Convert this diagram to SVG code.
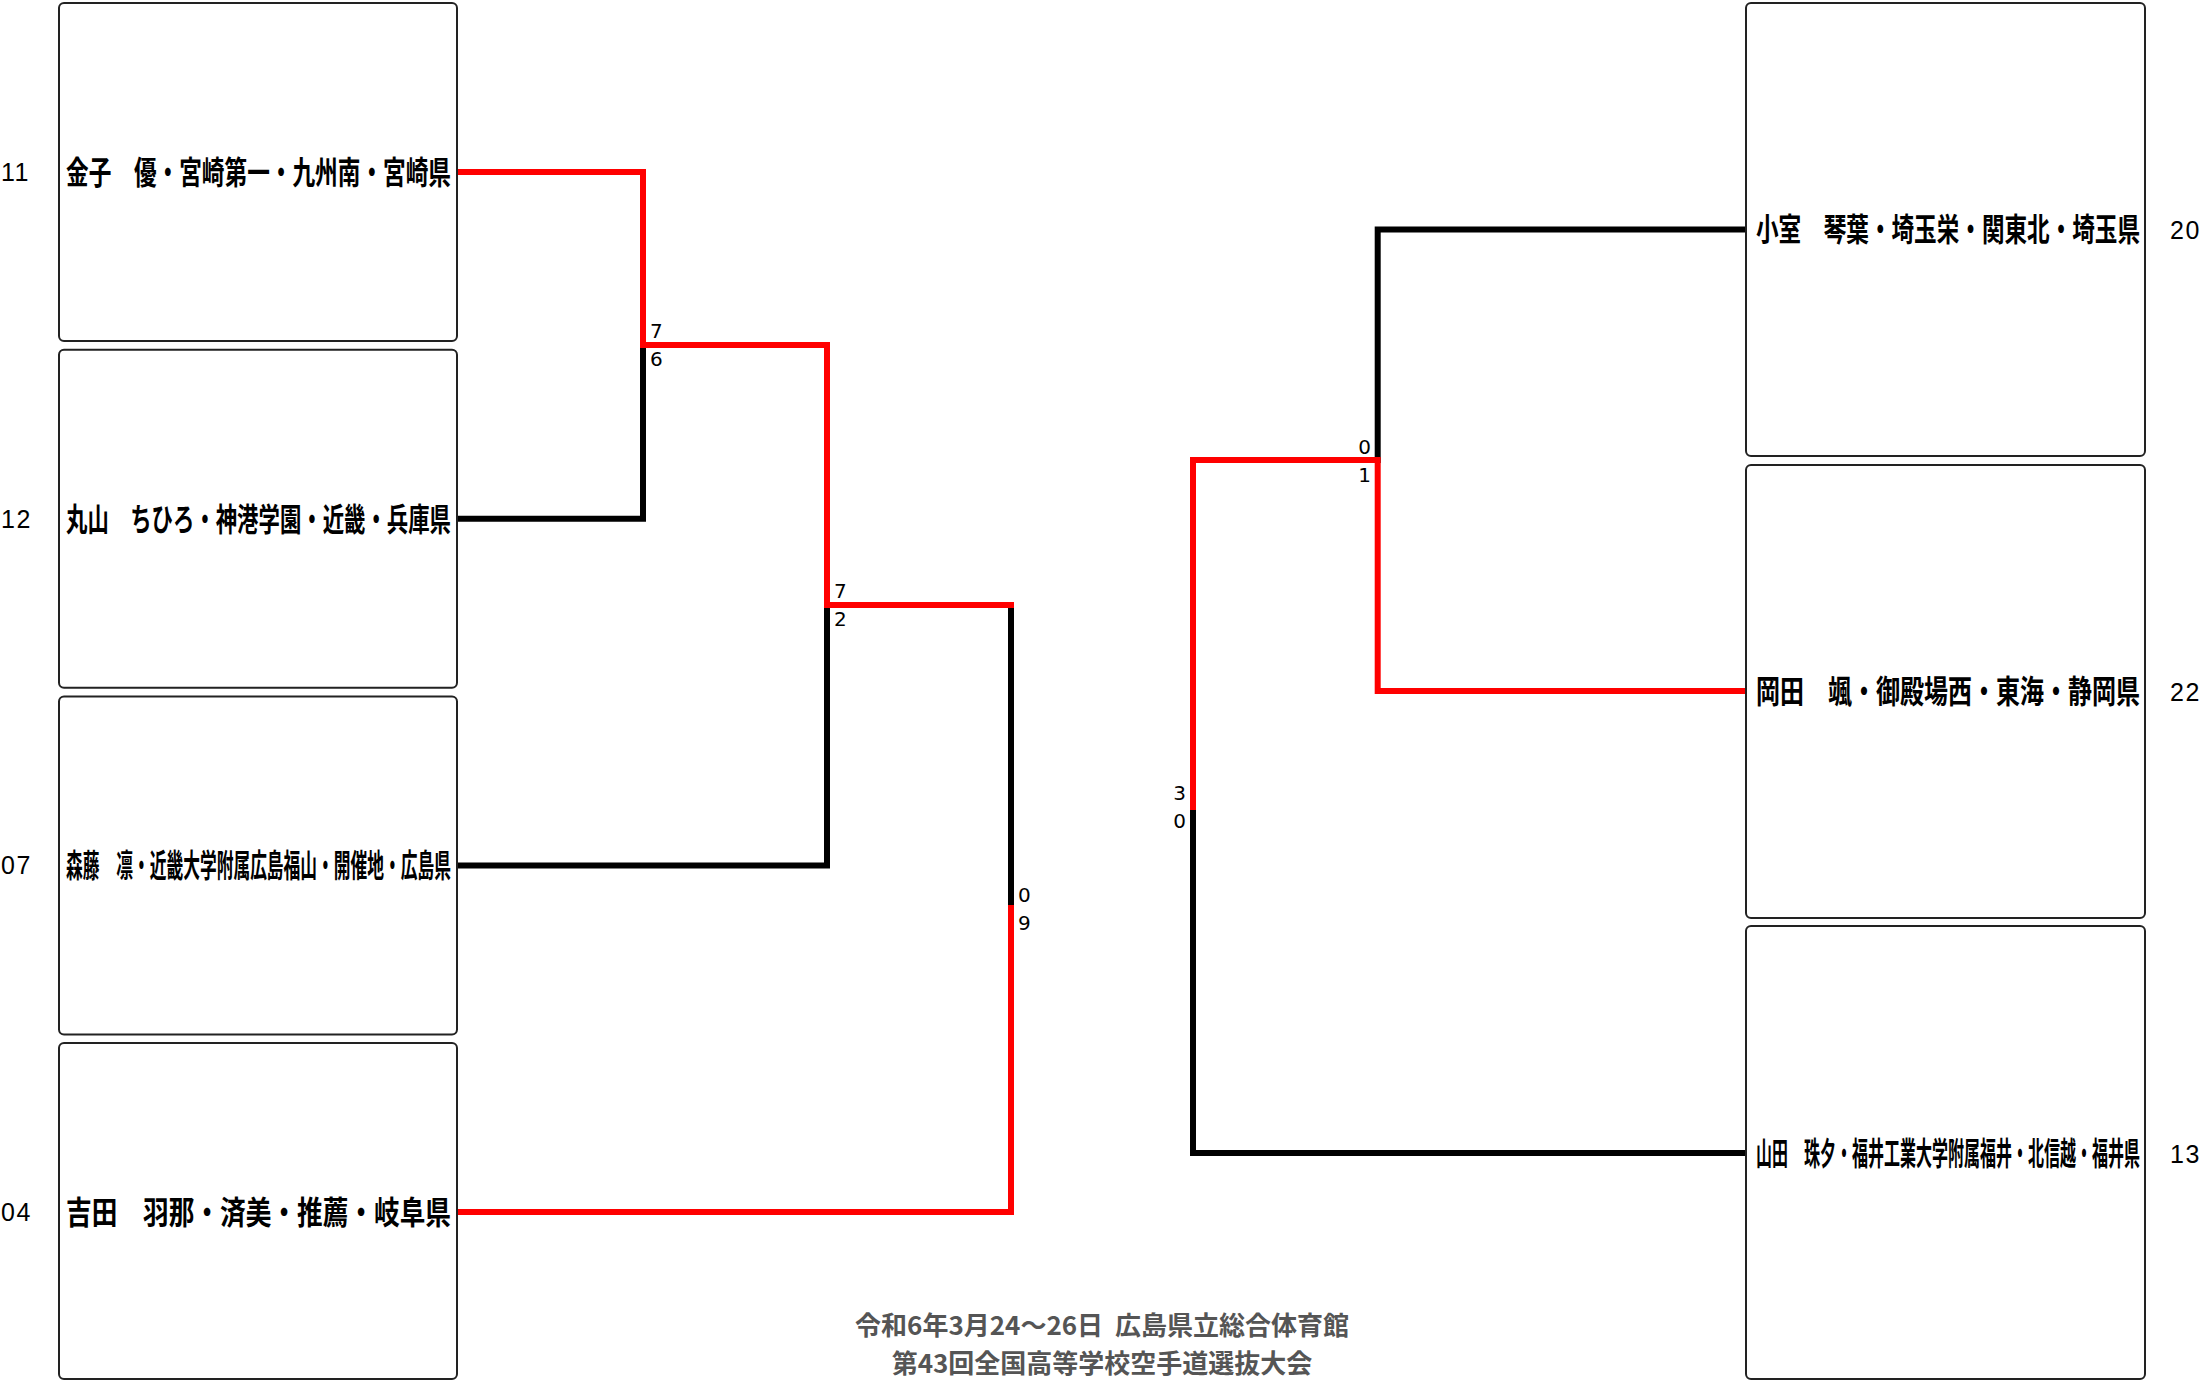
<svg xmlns="http://www.w3.org/2000/svg" width="2201" height="1381" viewBox="0 0 2201 1381">
<style>
.box{fill:#fff;stroke:#222;stroke-width:2}
.nm{font-family:"Noto Sans CJK JP","Noto Sans CJK SC",sans-serif;font-size:32px;font-weight:700;fill:#000}
.seed{font-family:"Liberation Sans",Arial,sans-serif;font-size:25px;letter-spacing:1.5px;fill:#000}
.sc{font-family:"DejaVu Sans",sans-serif;font-size:20px;fill:#000}
.scr{font-family:"DejaVu Sans",sans-serif;font-size:20px;fill:#000;text-anchor:end}
.r{fill:none;stroke:#ff0000;stroke-width:6;stroke-linecap:square}
.k{fill:none;stroke:#000;stroke-width:6;stroke-linecap:square}
.ft{font-family:"Noto Sans CJK JP","Noto Sans CJK SC",sans-serif;font-size:26px;font-weight:bold;fill:#555;text-anchor:middle;white-space:pre}
</style>
<rect width="2201" height="1381" fill="#fff"/>
<g id="connectors">
  <path class="k" d="M460,518.7 H643 V345"/>
  <path class="k" d="M460,865.4 H827 V605"/>
  <path class="k" d="M1011,605 V908"/>
  <path class="r" d="M460,172 H643 V345 H827 V605 H1011"/>
  <path class="r" d="M460,1212 H1011 V908"/>
  <path class="k" d="M1743,229.5 H1377.7 V460"/>
  <path class="k" d="M1743,1153 H1193 V807"/>
  <path class="r" d="M1743,691 H1377.7 V460 H1193 V807"/>
</g>
<g id="scores">
  <text class="sc" x="650" y="338">7</text>
  <text class="sc" x="650" y="366">6</text>
  <text class="sc" x="834" y="598">7</text>
  <text class="sc" x="834" y="626">2</text>
  <text class="sc" x="1018" y="902">0</text>
  <text class="sc" x="1018" y="930">9</text>
  <text class="scr" x="1371" y="454">0</text>
  <text class="scr" x="1371" y="482">1</text>
  <text class="scr" x="1186" y="800">3</text>
  <text class="scr" x="1186" y="828">0</text>
</g>
<g id="n11">
  <rect class="box" x="59" y="3" width="398" height="338" rx="5"/>
  <text class="seed" x="1" y="181">11</text>
  <text class="nm" transform="translate(66,184) scale(0.7077,1)" textLength="544" lengthAdjust="spacingAndGlyphs">金子　優・宮崎第一・九州南・宮崎県</text>
</g>
<g id="n12">
  <rect class="box" x="59" y="349.7" width="398" height="338" rx="5"/>
  <text class="seed" x="1" y="528">12</text>
  <text class="nm" transform="translate(66,531) scale(0.6684,1)" textLength="576" lengthAdjust="spacingAndGlyphs">丸山　ちひろ・神港学園・近畿・兵庫県</text>
</g>
<g id="n07">
  <rect class="box" x="59" y="696.4" width="398" height="338" rx="5"/>
  <text class="seed" x="1" y="874">07</text>
  <text class="nm" transform="translate(66,877) scale(0.5231,1)" textLength="736" lengthAdjust="spacingAndGlyphs">森藤　凛・近畿大学附属広島福山・開催地・広島県</text>
</g>
<g id="n04">
  <rect class="box" x="59" y="1043" width="398" height="336" rx="5"/>
  <text class="seed" x="1" y="1221">04</text>
  <text class="nm" transform="translate(66,1224) scale(0.8021,1)" textLength="480" lengthAdjust="spacingAndGlyphs">吉田　羽那・済美・推薦・岐阜県</text>
</g>
<g id="n20">
  <rect class="box" x="1746" y="3" width="399" height="453" rx="5"/>
  <text class="nm" transform="translate(1756,241) scale(0.7059,1)" textLength="544" lengthAdjust="spacingAndGlyphs">小室　琴葉・埼玉栄・関東北・埼玉県</text>
  <text class="seed" x="2170" y="239">20</text>
</g>
<g id="n22">
  <rect class="box" x="1746" y="465" width="399" height="453" rx="5"/>
  <text class="nm" transform="translate(1756,703) scale(0.75,1)" textLength="512" lengthAdjust="spacingAndGlyphs">岡田　颯・御殿場西・東海・静岡県</text>
  <text class="seed" x="2170" y="701">22</text>
</g>
<g id="n13">
  <rect class="box" x="1746" y="926" width="399" height="453" rx="5"/>
  <text class="nm" transform="translate(1756,1165) scale(0.5,1)" textLength="768" lengthAdjust="spacingAndGlyphs">山田　珠夕・福井工業大学附属福井・北信越・福井県</text>
  <text class="seed" x="2170" y="1163">13</text>
</g>
<g id="footer">
  <text class="ft" x="1102" y="1335" xml:space="preserve">令和6年3月24〜26日  広島県立総合体育館</text>
  <text class="ft" x="1102" y="1373">第43回全国高等学校空手道選抜大会</text>
</g>
</svg>
